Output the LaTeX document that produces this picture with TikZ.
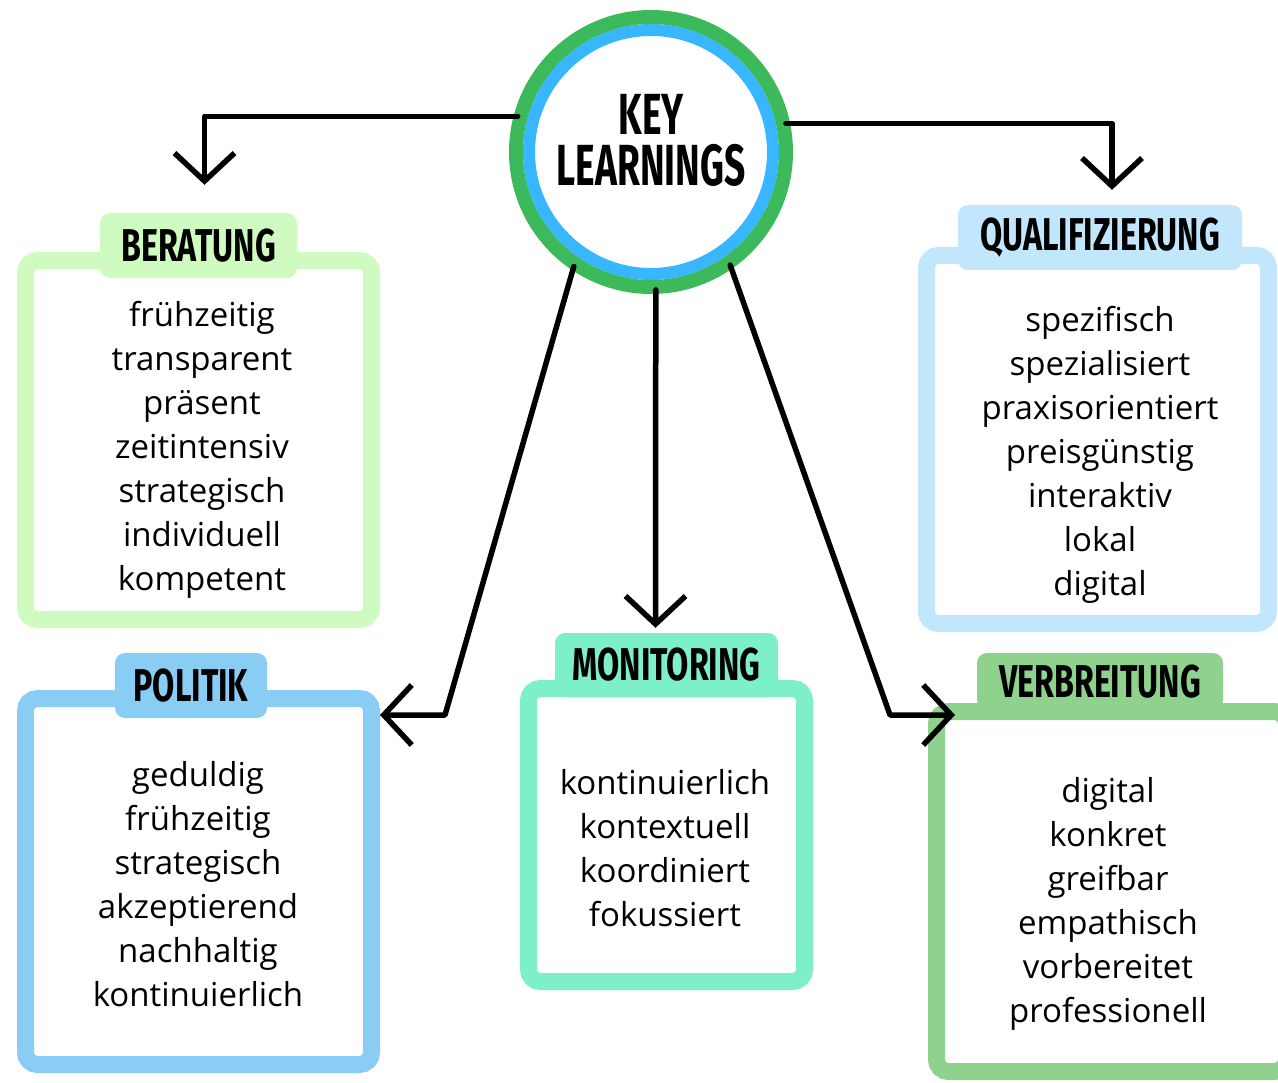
\documentclass[tikz,border=0pt]{standalone}
\usepackage{fontspec}
\setmainfont{Open Sans}
\newfontfamily\headfont[FakeStretch=0.7]{Fira Sans}
\newfontfamily\keyfont[FakeStretch=0.64]{Fira Sans}
\usetikzlibrary{arrows.meta}
\definecolor{keygreen}{HTML}{3CB95B}
\definecolor{keyblue}{HTML}{38B6FF}
\definecolor{beracol}{HTML}{CFFBC0}
\definecolor{polcol}{HTML}{8ACDF4}
\definecolor{moncol}{HTML}{7DEFC9}
\definecolor{qualcol}{HTML}{C2E6FB}
\definecolor{vercol}{HTML}{8ED28D}

\begin{document}
\begin{tikzpicture}[x=1pt,y=-1pt]
\tikzstyle{every node}=[inner sep=0pt]
\tikzstyle{box}=[draw, line width=17pt, rounded corners=12pt]
\tikzstyle{tab}=[rounded corners=10pt, font=\headfont\bfseries\fontsize{46pt}{46pt}\selectfont]
\tikzstyle{words}=[align=center, font=\fontsize{33pt}{44pt}\selectfont]
\tikzstyle{conn}=[line width=5.5pt, line cap=round, line join=round, -{Straight Barb[length=28pt,width=60pt]}]
\useasboundingbox (0,0) rectangle (1278,1083);

% centre
\node (key) [circle, draw=keyblue, fill=white, line width=12pt, minimum size=244pt, outer sep=16pt] at (651,152) {};
\draw[keygreen, line width=14pt] (key.center) circle (135pt);
\node (keytext) [align=center, font=\keyfont\bfseries\fontsize{58pt}{51pt}\selectfont] at (651,140) {KEY\\LEARNINGS};

% boxes
\node (bera) [box, draw=beracol, minimum width=346pt, minimum height=359pt] at (198.5,440) {};
\node (pol) [box, draw=polcol, minimum width=346pt, minimum height=366pt] at (198.5,881.5) {};
\node (mon) [box, draw=moncol, minimum width=276pt, minimum height=293pt] at (666.5,835) {};
\node (qual) [box, draw=qualcol, minimum width=342pt, minimum height=368pt] at (1097.5,439.5) {};
\node (ver) [box, draw=vercol, minimum width=350pt, minimum height=360pt] at (1111.5,891.5) {};

% tabs
\node (berat) [tab, fill=beracol, minimum width=197pt, minimum height=65pt] at (198.5,245.5) {BERATUNG};
\node (polt) [tab, fill=polcol, minimum width=152pt, minimum height=65pt] at (191,685.5) {POLITIK};
\node (mont) [tab, fill=moncol, minimum width=223pt, minimum height=64pt] at (666.5,665) {MONITORING};
\node (qualt) [tab, fill=qualcol, minimum width=284pt, minimum height=65pt] at (1100,237.5) {QUALIFIZIERUNG};
\node (vert) [tab, fill=vercol, minimum width=246pt, minimum height=57pt] at (1100,681.5) {VERBREITUNG};

% words
\node (berawords) [words] at (202,450) {frühzeitig\\transparent\\präsent\\zeitintensiv\\strategisch\\individuell\\kompetent};
\node (polwords) [words] at (198,884) {geduldig\\frühzeitig\\strategisch\\akzeptierend\\nachhaltig\\kontinuierlich};
\node (monwords) [words] at (665,848) {kontinuierlich\\kontextuell\\koordiniert\\fokussiert};
\node (qualwords) [words] at (1100,455) {spezifisch\\spezialisiert\\praxisorientiert\\preisgünstig\\interaktiv\\lokal\\digital};
\node (verwords) [words] at (1108,904) {digital\\konkret\\greifbar\\empathisch\\vorbereitet\\professionell};

% arrows
\draw[conn] (key.165) -| ([xshift=6pt,yshift=28pt]berat.north);
\draw[conn] (key.12) -| ([xshift=12pt,yshift=15pt]qualt.north);
\draw[conn] (key.236) -- (445,715) -- ([yshift=-25pt]pol.north east);
\draw[conn] (key.272) -- ([xshift=-11pt,yshift=5pt]mont.north);
\draw[conn] (key.305) -- (890,715) -- ([xshift=27pt,yshift=-12pt]ver.north west);
\end{tikzpicture}
\end{document}
